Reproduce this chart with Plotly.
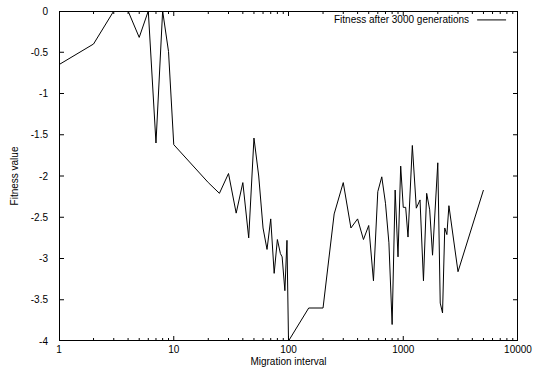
import plotly.graph_objects as go

migration_interval = [1, 2, 3, 4, 5, 6, 7, 8, 9, 10, 20, 25, 30, 35, 40, 45,
                      50, 55, 60, 65, 70, 75, 80, 85, 88, 93, 97, 100, 150, 200,
                      250, 300, 350, 400, 450, 500, 550, 600, 650, 700, 750, 800,
                      850, 900, 950, 1000, 1050, 1100, 1200, 1300, 1400, 1500,
                      1600, 1700, 1800, 2000, 2100, 2200, 2300, 2400, 2500, 3000, 5000]
fitness = [-0.65, -0.4, 0, 0, -0.32, 0, -1.6, 0, -0.49, -1.62, -2.08, -2.21, -1.97,
           -2.45, -2.08, -2.75, -1.54, -2.0, -2.63, -2.89, -2.52, -3.18, -2.77, -2.94,
           -2.98, -3.39, -2.78, -4.0, -3.6, -3.6, -2.46, -2.08, -2.63, -2.52, -2.77,
           -2.6, -3.27, -2.19, -2.01, -2.33, -2.81, -3.8, -2.17, -2.98, -1.88, -2.38,
           -2.38, -2.74, -1.63, -2.39, -2.29, -3.27, -2.21, -2.41, -2.96, -1.84, -3.54,
           -3.66, -2.63, -2.71, -2.36, -3.16, -2.17]

x_tickvals = [1, 10, 100, 1000, 10000]
x_ticktext = ["1", "10", "100", "1000", "10000"]
x_minor_tickvals = [m * d for d in [1, 10, 100, 1000] for m in range(2, 10)]
y_tickvals = [0, -0.5, -1, -1.5, -2, -2.5, -3, -3.5, -4]
y_ticktext = ["0", "-0.5", "-1", "-1.5", "-2", "-2.5", "-3", "-3.5", "-4"]
series_name = "Fitness after 3000 generations"

X_RANGE_LOG = [0, 4]
Y_RANGE = [-4, 0]
W, H = 536, 372
M = dict(l=59, r=18, t=11, b=31)
PW = W - M["l"] - M["r"]
PH = H - M["t"] - M["b"]

font = dict(family="Liberation Sans, Arial, sans-serif", size=10, color="black")

x_lo, x_hi = 10 ** X_RANGE_LOG[0], 10 ** X_RANGE_LOG[1]
y_lo, y_hi = Y_RANGE
y_per_px = (y_hi - y_lo) / PH
logx_per_px = (X_RANGE_LOG[1] - X_RANGE_LOG[0]) / PW

fig = go.Figure()

# frame (on the main axes; width 2 so the visible inner half is 1px)
fig.add_trace(go.Scatter(x=[x_lo, x_hi, x_hi, x_lo, x_lo],
                         y=[y_lo, y_lo, y_hi, y_hi, y_lo],
                         mode="lines", line=dict(color="black", width=2),
                         showlegend=False, hoverinfo="skip"))

# inside, mirrored tick marks
tx, ty = [], []
for vals, length in ((x_tickvals, 5), (x_minor_tickvals, 3)):
    d = length * y_per_px
    for v in vals:
        tx += [v, v, None, v, v, None]
        ty += [y_lo, y_lo + d, None, y_hi, y_hi - d, None]
for v in y_tickvals:
    left_end = 10 ** (X_RANGE_LOG[0] + 5 * logx_per_px)
    right_end = 10 ** (X_RANGE_LOG[1] - 5 * logx_per_px)
    tx += [x_lo, left_end, None, x_hi, right_end, None]
    ty += [v, v, None, v, v, None]
fig.add_trace(go.Scatter(x=tx, y=ty, mode="lines",
                         line=dict(color="black", width=1), showlegend=False,
                         hoverinfo="skip", connectgaps=False))

fig.add_trace(go.Scatter(x=migration_interval, y=fitness, mode="lines",
                         line=dict(color="black", width=1), showlegend=False,
                         hoverinfo="skip"))

fig.update_layout(
    template="none",
    width=W, height=H,
    margin=M,
    paper_bgcolor="white", plot_bgcolor="white",
    font=font,
    xaxis=dict(type="log", range=X_RANGE_LOG, tickmode="array",
               tickvals=x_tickvals, ticktext=x_ticktext,
               ticks="", showline=False, showgrid=False, zeroline=False,
               ticklabelstandoff=1,
               title=dict(text="Migration interval", standoff=3, font=font)),
    yaxis=dict(range=Y_RANGE, tickmode="array", tickvals=y_tickvals, ticktext=y_ticktext,
               ticks="", showline=False, showgrid=False, zeroline=False,
               ticklabelstandoff=10,
               title=dict(text="Fitness value", standoff=10, font=font)),
)

# key: text then a line sample to its right (gnuplot style)
fig.add_annotation(xref="paper", yref="paper", x=0.897, y=0.973, xanchor="right",
                   yanchor="middle", text=series_name, showarrow=False, font=font)
fig.add_shape(type="line", xref="paper", yref="paper", x0=0.911, x1=0.974,
              y0=0.973, y1=0.973, line=dict(color="black", width=1))

fig.write_html("out.html", config={"displayModeBar": False},
               post_script="document.body.style.margin='0';")
